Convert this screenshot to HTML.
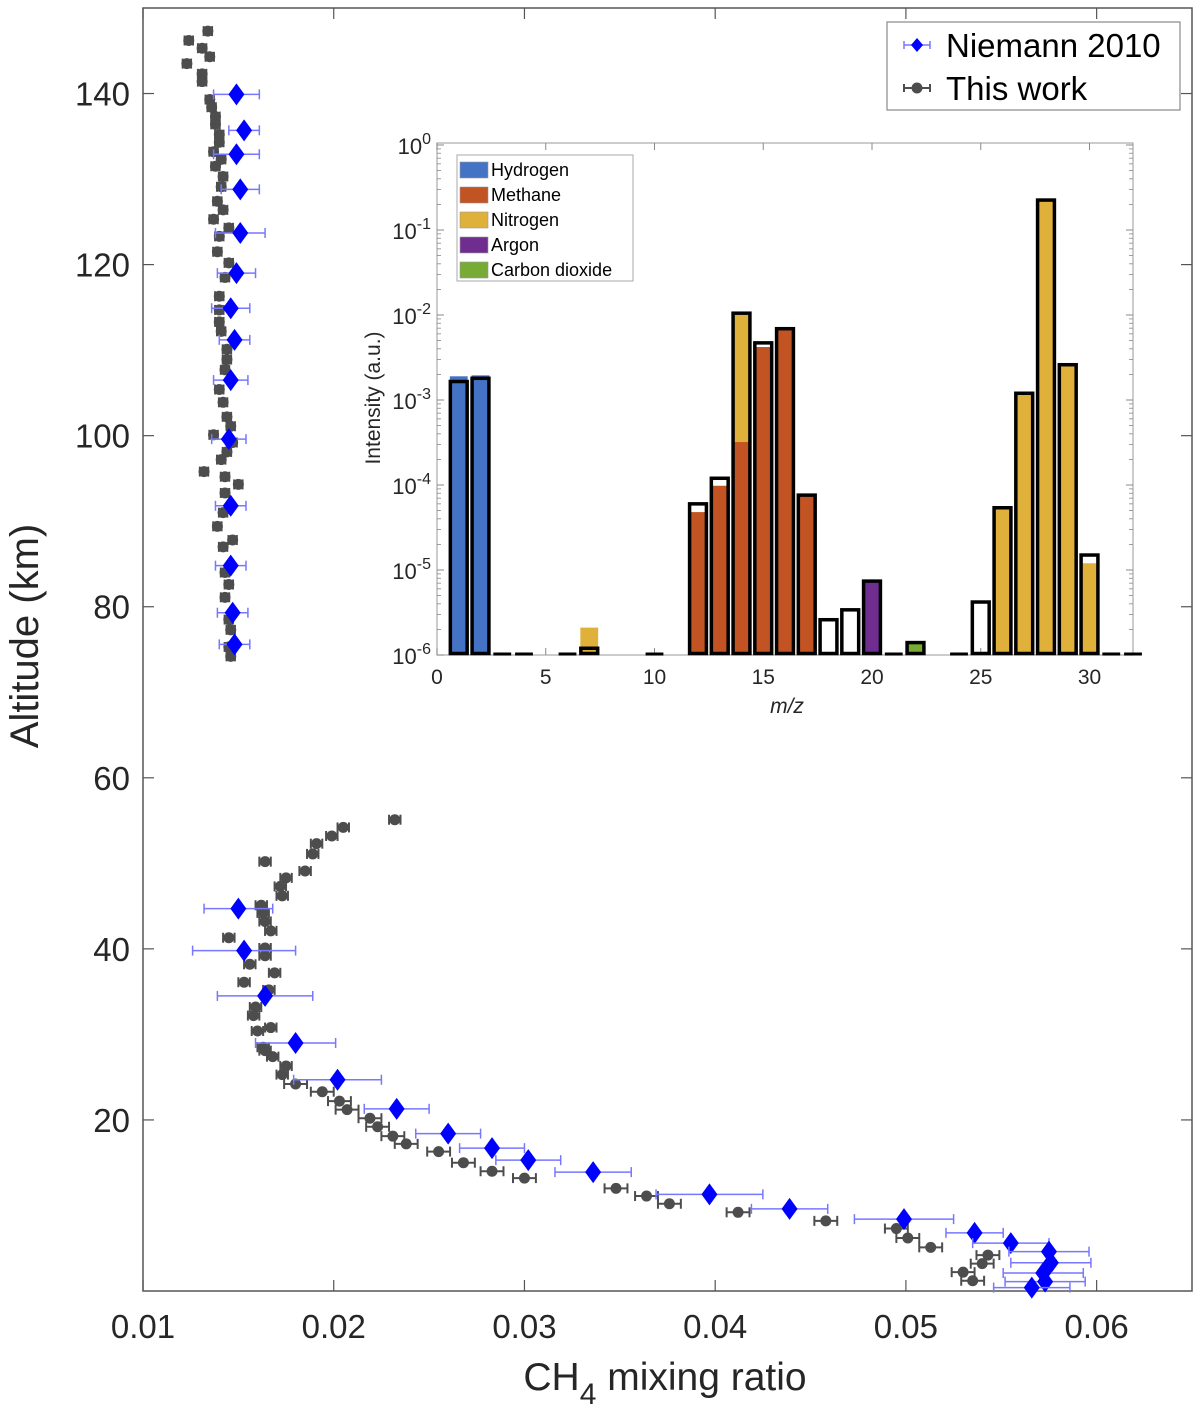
<!DOCTYPE html>
<html><head><meta charset="utf-8"><style>
html,body{margin:0;padding:0;background:#fff;}
svg{display:block;font-family:"Liberation Sans",Arial,sans-serif;}
</style></head><body>
<svg id="chart" width="1200" height="1420" viewBox="0 0 1200 1420" xmlns="http://www.w3.org/2000/svg">
<g id="main"></g>
<g id="inset"></g>
</svg>
<script>
// ---------- Main chart data ----------
const xTicks = [0.01,0.02,0.03,0.04,0.05,0.06];
const xTickLabels = ["0.01","0.02","0.03","0.04","0.05","0.06"];
const yTicks = [20,40,60,80,100,120,140];
const yTickLabels = ["20","40","60","80","100","120","140"];
const niemannX = [0.0149,0.0153,0.0149,0.0151,0.0151,0.0149,0.0146,0.0148,0.0146,0.0145,0.0146,0.0146,0.0147,0.0148,
  0.0150,0.0153,0.0164,0.0180,0.0202,0.0233,0.0260,0.0283,0.0302,0.0336,0.0397,0.0439,0.0499,0.0536,0.0555,0.0575,0.0576,0.0572,0.0573,0.0566];
const niemannAlt = [139.9,135.7,132.9,128.8,123.7,119.0,114.9,111.2,106.5,99.6,91.8,84.8,79.3,75.6,
  44.7,39.8,34.5,29.0,24.7,21.3,18.4,16.7,15.3,13.9,11.3,9.6,8.4,6.8,5.6,4.6,3.3,2.1,1.1,0.4];
const niemannErr = [0.0012,0.0008,0.0012,0.0010,0.0013,0.0010,0.0010,0.0008,0.0009,0.0009,0.0008,0.0008,0.0008,0.0008,
  0.0018,0.0027,0.0025,0.0021,0.0023,0.0017,0.0017,0.0017,0.0017,0.0020,0.0028,0.0020,0.0026,0.0015,0.0020,0.0021,0.0021,0.0021,0.0021,0.0020];
const workX = [0.0134,0.0124,0.0131,0.0135,0.0123,0.0131,0.0131,0.0135,0.0136,0.0138,0.0138,0.0140,0.0140,0.0137,0.0141,0.0138,0.0142,0.0141,0.0139,0.0142,0.0137,0.0145,0.0140,0.0139,0.0145,0.0143,0.0140,0.0140,0.0140,0.0141,0.0144,
  0.0144,0.0143,0.0140,0.0142,0.0144,0.0146,0.0137,0.0147,0.0144,0.0141,0.0132,0.0143,0.0150,0.0143,0.0142,0.0139,0.0147,0.0142,0.0143,0.0145,0.0143,0.0145,0.0146,0.0145,0.0146,
  0.0232,0.0205,0.0199,0.0191,0.0189,0.0164,0.0185,0.0175,0.0172,0.0173,0.0162,0.0163,0.0164,0.0167,0.0145,0.0164,0.0164,0.0156,0.0169,0.0153,0.0166,0.0159,0.0158,0.0167,0.0160,0.0163,0.0164,0.0168,0.0175,0.0173,0.0180,0.0194,0.0203,0.0207,0.0219,0.0223,0.0231,0.0238,0.0255,0.0268,0.0283,0.0300,0.0348,
  0.0364,0.0376,0.0412,0.0458,0.0495,0.0501,0.0513,0.0543,0.0540,0.0530,0.0535];
const workAlt = [147.3,146.2,145.3,144.3,143.5,142.3,141.4,139.3,138.4,137.3,136.4,135.2,134.3,133.2,132.3,131.5,130.3,129.1,127.4,126.4,125.3,124.3,123.3,121.5,120.2,118.5,116.3,114.7,113.3,112.2,110.1,
  108.9,107.7,105.4,103.9,102.2,101.1,100.1,99.2,98.1,97.2,95.8,95.2,94.3,93.3,91.0,89.4,87.8,87.0,84.0,82.6,81.1,78.5,77.3,75.3,74.2,
  55.1,54.2,53.2,52.3,51.1,50.2,49.1,48.3,47.3,46.2,45.1,44.2,43.2,42.1,41.3,40.1,39.2,38.2,37.2,36.1,35.2,33.2,32.2,30.8,30.4,28.5,28.1,27.4,26.3,25.3,24.2,23.3,22.2,21.2,20.2,19.2,18.1,17.2,16.3,15.0,14.0,13.2,12.0,
  11.1,10.2,9.2,8.2,7.3,6.2,5.1,4.2,3.2,2.2,1.2];
const workErr = workAlt.map(a => a > 60 ? 0.00022 : (a > 25 ? 0.0003 : 0.0006));

// ---------- Inset data ----------
const massNumbers = [1,2,7,12,13,14,15,16,17,18,19,20,22,25,26,27,28,29,30];
const measured = [1.65e-3,1.8e-3,1.2e-6,6.0e-5,1.2e-4,1.05e-2,4.7e-3,6.9e-3,7.6e-5,2.6e-6,3.4e-6,7.4e-6,1.4e-6,4.2e-6,5.4e-5,1.2e-3,0.225,2.6e-3,1.5e-5];
const hydrogenModel = [1.9e-3,1.95e-3,0,0,0,0,0,0,0,0,0,0,0,0,0,0,0,0,0];
const methaneModel = [0,0,0,4.8e-5,9.8e-5,3.2e-4,4.2e-3,6.8e-3,7.6e-5,0,0,0,0,0,0,0,0,0,0];
const nitrogenModel = [0,0,2.1e-6,0,0,1.0e-2,0,0,0,0,0,0,0,0,5.6e-5,1.15e-3,0.225,2.6e-3,1.2e-5];
const argonModel = [0,0,0,0,0,0,0,0,0,0,0,7.4e-6,0,0,0,0,0,0,0];
const co2Model = [0,0,0,0,0,0,0,0,0,0,0,0,1.4e-6,0,0,0,0,0,0];
const flatMasses = [3,4,6,10,21,24,31,32];
const insetXTicks = [0,5,10,15,20,25,30];
const insetYExps = [0,-1,-2,-3,-4,-5,-6];
const legendNames = ["Hydrogen","Methane","Nitrogen","Argon","Carbon dioxide"];

const NS = "http://www.w3.org/2000/svg";
function mk(parent, tag, attrs, text){
  const e = document.createElementNS(NS, tag);
  for (const k in attrs) e.setAttribute(k, attrs[k]);
  if (text !== undefined) e.textContent = text;
  parent.appendChild(e); return e;
}

// ---------- Main axes ----------
const L=143,R=1192,T=8,B=1291;
const X = v => L + (v-0.01)/0.055*(R-L);
const Y = a => B - a/150*(B-T);
const main = document.getElementById('main');
const AX="#262626";

const box = mk(main,'rect',{x:L,y:T,width:R-L,height:B-T,fill:'none',stroke:'#555','stroke-width':1.5});



xTicks.forEach((v,i)=>{
  mk(main,'line',{x1:X(v),x2:X(v),y1:B,y2:B-11,stroke:'#555','stroke-width':1.2});
  mk(main,'line',{x1:X(v),x2:X(v),y1:T,y2:T+11,stroke:'#555','stroke-width':1.2});
  const t = mk(main,'text',{x:X(v),y:1338,'text-anchor':'middle','font-size':33,fill:AX},xTickLabels[i]);
  
  
});
yTicks.forEach((v,i)=>{
  mk(main,'line',{x1:L,x2:L+11,y1:Y(v),y2:Y(v),stroke:'#555','stroke-width':1.2});
  mk(main,'line',{x1:R,x2:R-11,y1:Y(v),y2:Y(v),stroke:'#555','stroke-width':1.2});
  const t = mk(main,'text',{x:130,y:Y(v)+12,'text-anchor':'end','font-size':33,fill:AX},yTickLabels[i]);
  
  
});
const xt = mk(main,'text',{x:665,y:1390,'text-anchor':'middle','font-size':39,fill:AX});


xt.innerHTML = 'CH<tspan dy="14" font-size="30">4</tspan><tspan dy="-14"> mixing ratio</tspan>';
const yt = mk(main,'text',{x:38,y:636,'text-anchor':'middle','font-size':40,fill:AX,transform:'rotate(-90 38 636)'},'Altitude (km)');



// This work
workX.forEach((v,i)=>{
  const g = mk(main,'g',{});
  
  
  const x0=X(v-workErr[i]), x1=X(v+workErr[i]), y=Y(workAlt[i]);
  mk(g,'line',{x1:x0,x2:x1,y1:y,y2:y,stroke:'#4d4d4d','stroke-width':2});
  mk(g,'line',{x1:x0,x2:x0,y1:y-5,y2:y+5,stroke:'#4d4d4d','stroke-width':2});
  mk(g,'line',{x1:x1,x2:x1,y1:y-5,y2:y+5,stroke:'#4d4d4d','stroke-width':2});
  mk(g,'circle',{cx:X(v),cy:y,r:5.5,fill:'#4d4d4d'});
});
// Niemann
niemannX.forEach((v,i)=>{
  const g = mk(main,'g',{});
  
  
  const x0=X(v-niemannErr[i]), x1=X(v+niemannErr[i]), y=Y(niemannAlt[i]), cx=X(v);
  mk(g,'line',{x1:x0,x2:x1,y1:y,y2:y,stroke:'#7777ff','stroke-width':1.5});
  mk(g,'line',{x1:x0,x2:x0,y1:y-5,y2:y+5,stroke:'#7777ff','stroke-width':1.5});
  mk(g,'line',{x1:x1,x2:x1,y1:y-5,y2:y+5,stroke:'#7777ff','stroke-width':1.5});
  mk(g,'polygon',{points:`${cx},${y-11} ${cx+8},${y} ${cx},${y+11} ${cx-8},${y}`,fill:'#0000ff'});
});

// Main legend
const lg = mk(main,'g',{});


mk(lg,'rect',{x:887,y:22,width:293,height:88,fill:'#fff',stroke:'#888','stroke-width':1.2});
mk(lg,'line',{x1:904,x2:930,y1:45,y2:45,stroke:'#7777ff','stroke-width':1.5});
mk(lg,'line',{x1:904,x2:904,y1:41,y2:49,stroke:'#7777ff','stroke-width':1.5});
mk(lg,'line',{x1:930,x2:930,y1:41,y2:49,stroke:'#7777ff','stroke-width':1.5});
mk(lg,'polygon',{points:'917,38 923,45 917,52 911,45',fill:'#0000ff'});
const le1 = mk(lg,'text',{x:946,y:57,'font-size':33,fill:'#000'},'Niemann 2010');


mk(lg,'line',{x1:904,x2:930,y1:88,y2:88,stroke:'#4d4d4d','stroke-width':2});
mk(lg,'line',{x1:904,x2:904,y1:84,y2:92,stroke:'#4d4d4d','stroke-width':2});
mk(lg,'line',{x1:930,x2:930,y1:84,y2:92,stroke:'#4d4d4d','stroke-width':2});
mk(lg,'circle',{cx:917,cy:88,r:5.5,fill:'#4d4d4d'});
const le2 = mk(lg,'text',{x:946,y:100,'font-size':33,fill:'#000'},'This work');



// ---------- Inset ----------
const IL=437,IR=1133,IT=145,IB=655;
const IX = m => IL + m/32*(IR-IL);
const IY = v => IB - (Math.log10(v)+6)/6*(IB-IT);
const ins = document.getElementById('inset');
const ibg = mk(ins,'rect',{x:IL,y:IT-2,width:IR-IL,height:IB-IT+2,fill:'#fff',stroke:'#aaa','stroke-width':1.2});


for (let e=-6;e<0;e++) for (let k=2;k<10;k++){
  const y=IY(k*Math.pow(10,e));
  mk(ins,'line',{x1:IL,x2:IL+4,y1:y,y2:y,stroke:'#888','stroke-width':0.8});
  mk(ins,'line',{x1:IR,x2:IR-4,y1:y,y2:y,stroke:'#888','stroke-width':0.8});
}
insetYExps.forEach(e=>{
  const y=IY(Math.pow(10,e));
  mk(ins,'line',{x1:IL,x2:IL+7,y1:y,y2:y,stroke:'#888','stroke-width':1});
  mk(ins,'line',{x1:IR,x2:IR-7,y1:y,y2:y,stroke:'#888','stroke-width':1});
  const t=mk(ins,'text',{x:431,y:y+9,'text-anchor':'end','font-size':22,fill:AX});
  t.innerHTML = `10<tspan dy="-10" font-size="16">${e}</tspan>`;
  
  
});
insetXTicks.forEach(m=>{
  mk(ins,'line',{x1:IX(m),x2:IX(m),y1:IB,y2:IB-7,stroke:'#888','stroke-width':1});
  mk(ins,'line',{x1:IX(m),x2:IX(m),y1:IT-2,y2:IT+5,stroke:'#888','stroke-width':1});
  const t=mk(ins,'text',{x:IX(m),y:684,'text-anchor':'middle','font-size':21,fill:AX},String(m));
  
  
});
const ixl=mk(ins,'text',{x:787,y:713,'text-anchor':'middle','font-size':21,'font-style':'italic',fill:AX},'m/z');


const iyl=mk(ins,'text',{x:380,y:398,'text-anchor':'middle','font-size':21,fill:AX,transform:'rotate(-90 380 398)'},'Intensity (a.u.)');



const colors = {H:'#4472c4',M:'#c25323',N:'#e0b13a',A:'#6f2d8f',C:'#78ab36'};
const bw = 0.82;
massNumbers.forEach((m,i)=>{
  const x0=IX(m-bw/2), w=IX(bw)-IX(0);
  const comps = [[hydrogenModel[i],colors.H],[nitrogenModel[i],colors.N],[methaneModel[i],colors.M],[argonModel[i],colors.A],[co2Model[i],colors.C]];
  comps.filter(c=>c[0]>0).sort((a,b)=>b[0]-a[0]).forEach(c=>{
    const r=mk(ins,'rect',{x:x0,y:IY(c[0]),width:w,height:IB-IY(c[0]),fill:c[1]});
    
    
  });
  const o=mk(ins,'rect',{x:x0+0.5,y:IY(measured[i]),width:w-1,height:IB-IY(measured[i])-1.5,fill:'none',stroke:'#000','stroke-width':3.5});
  
  
});
flatMasses.forEach(m=>{
  const f=mk(ins,'line',{x1:IX(m-bw/2),x2:IX(m+bw/2),y1:IB-1,y2:IB-1,stroke:'#000','stroke-width':3});
  
  
});
const il = mk(ins,'g',{});


mk(il,'rect',{x:457,y:155,width:176,height:126,fill:'#fff',stroke:'#aaa','stroke-width':1});
const lc=[colors.H,colors.M,colors.N,colors.A,colors.C];
legendNames.forEach((n,i)=>{
  const y=170+i*25;
  mk(il,'rect',{x:460,y:y-8,width:28,height:16,fill:lc[i],stroke:'#999','stroke-width':0.6});
  const t=mk(il,'text',{x:491,y:y+6,'font-size':18,fill:'#000'},n);
  
  
});
</script>
</body></html>
